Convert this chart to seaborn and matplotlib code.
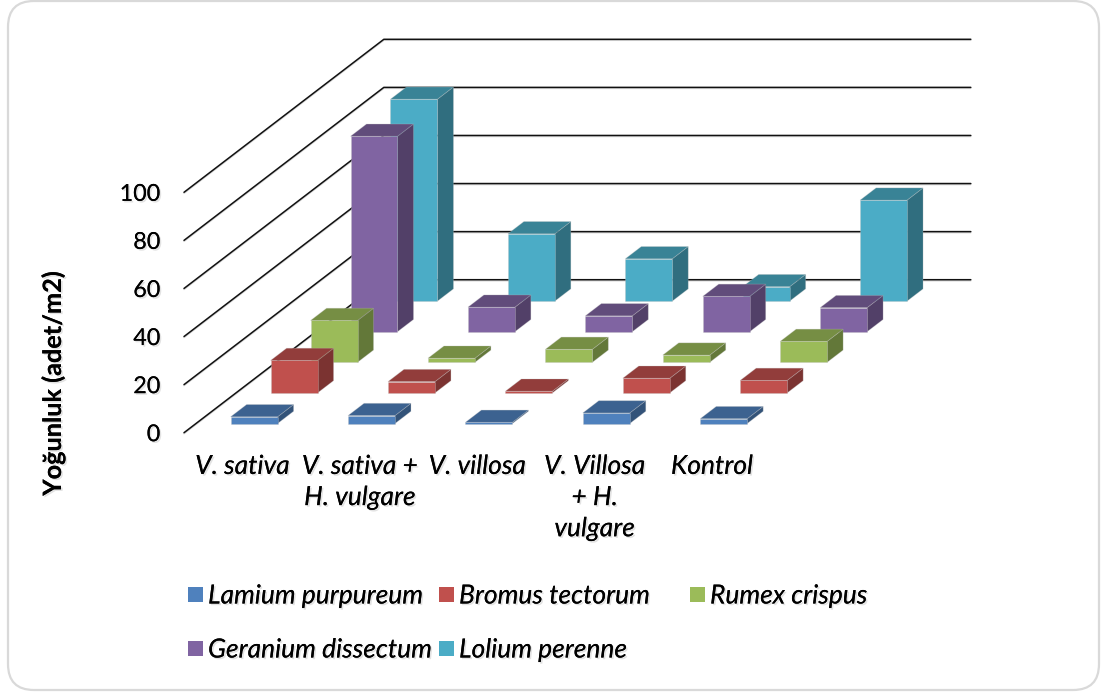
#!/usr/bin/env python3

import numpy as np
import pandas as pd
import seaborn as sns
import matplotlib.pyplot as plt
import matplotlib.patheffects as pe
from matplotlib.colors import to_rgb
from matplotlib.patches import FancyBboxPatch, Polygon, Rectangle

categories = ["V. sativa", "V. sativa +\nH. vulgare", "V. villosa",
              "V. Villosa\n+ H.\nvulgare", "Kontrol"]
species = ["Lamium purpureum", "Bromus tectorum", "Rumex crispus",
           "Geranium dissectum", "Lolium perenne"]
lamium = [2.8, 3.3, 0.5, 4.4, 2.0]
bromus = [13.5, 4.7, 0.7, 6.1, 5.2]
rumex = [17.4, 1.7, 5.4, 3.0, 8.7]
geranium = [81.3, 10.2, 6.6, 14.7, 10.0]
lolium = [84.0, 28.0, 17.6, 6.0, 42.0]
yticks = [0, 20, 40, 60, 80, 100]
colors = ["#4F81BD", "#C0504D", "#9BBB59", "#8064A2", "#4BACC6"]

W, H = 1103, 693
# fake 3d: one unit of depth moves things this far in data units
SHEAR_X = 200 / 117.5
SHEAR_Y = 153 / 2.404
BAR_W = 0.4
BAR_D = 0.08
EDGE = (0.75, 0.75, 0.75, 0.3)

sns.set_theme(style="white")
plt.rcParams['font.family'] = ['Lato', 'DejaVu Sans']

fig = plt.figure(figsize=(W / 100, H / 100), dpi=100)

# background frame and legend live on a pixel sized axes
bg = fig.add_axes([0, 0, 1, 1], zorder=0)
bg.set(xlim=(0, W), ylim=(H, 0))
bg.axis("off")
bg.add_patch(FancyBboxPatch((8, 1), 1091, 689,
                            boxstyle="round,pad=0,rounding_size=26", fc="white",
                            ec="#D9D9D9", lw=1.6))

ax = fig.add_axes([184 / W, 1 - 432.7 / H, 587 / W, 240.4 / H], zorder=1)
ax.patch.set_alpha(0)


def shade(color, k):
    return tuple(c * k for c in to_rgb(color))


for v in yticks:
    ax.plot([0, SHEAR_X, SHEAR_X + 5], [v, v + SHEAR_Y, v + SHEAR_Y],
            color="#111111", lw=1.1, clip_on=False, zorder=1,
            path_effects=[pe.SimpleLineShadow(offset=(0, -0.7), shadow_color="gray", alpha=0.35),
                          pe.Normal()])

rows = [lamium, bromus, rumex, geranium, lolium]
for s, values in reversed(list(enumerate(rows))):
    z = 10 + 2 * (4 - s)
    d = 0.06 + 0.2 * s
    pos = np.arange(5) + 0.495 + d * SHEAR_X
    df = pd.DataFrame({"pos": pos, "value": values})
    sns.barplot(data=df, x="pos", y="value", native_scale=True, width=BAR_W,
                bottom=d * SHEAR_Y, color=colors[s], saturation=1, errorbar=None,
                clip_on=False, zorder=z + 1, edgecolor=EDGE, linewidth=0.7, ax=ax)
    for x, v in zip(pos, values):
        y0 = d * SHEAR_Y
        dx, dy = BAR_D * SHEAR_X, BAR_D * SHEAR_Y
        l, r = x - BAR_W / 2, x + BAR_W / 2
        side = [(r, y0), (r + dx, y0 + dy), (r + dx, y0 + dy + v), (r, y0 + v)]
        top = [(l, y0 + v), (r, y0 + v), (r + dx, y0 + dy + v), (l + dx, y0 + dy + v)]
        ax.add_patch(Polygon(side, fc=shade(colors[s], 0.64), ec=EDGE, lw=0.6,
                             clip_on=False, zorder=z))
        ax.add_patch(Polygon(top, fc=shade(colors[s], 0.76), ec=EDGE, lw=0.6,
                             clip_on=False, zorder=z))

shadow = [pe.withSimplePatchShadow(offset=(1.2, -1.2), alpha=0.22, shadow_rgbFace="gray"),
          pe.Normal()]

ax.set_xlim(0, 5)
ax.set_ylim(0, 100)
ax.set_xticks(np.arange(5) + 0.497)
ax.set_xticklabels(categories, style="italic", fontsize=19, linespacing=1.43,
                   color="black", path_effects=shadow)
ax.set_yticks(yticks)
ax.set_yticklabels([str(v) for v in yticks], fontsize=16.8, color="black",
                   path_effects=shadow)
ax.tick_params(axis="x", length=0, pad=16)
ax.tick_params(axis="y", length=0, pad=17)
ax.set_xlabel("")
ax.set_ylabel("Yoğunluk (adet/m2)", fontsize=18.2, fontweight="bold", color="black",
              path_effects=shadow)
ax.yaxis.set_label_coords((65 - 184) / 587, (432.7 - 384) / 240.4)
sns.despine(ax=ax, left=True, bottom=True)

# excel legend: 3 even columns, filled row by row
for n, name in enumerate(species):
    lx = 188 + 251 * (n % 3)
    ly = 587 + 54 * (n // 3)
    bg.add_patch(Rectangle((lx, ly), 15, 15, fc=colors[n], ec="none"))
    bg.text(lx + 20, ly + 9, name, style="italic", fontsize=19, color="black",
            va="center", ha="left", path_effects=shadow)

fig.savefig("out.png", dpi=100)
